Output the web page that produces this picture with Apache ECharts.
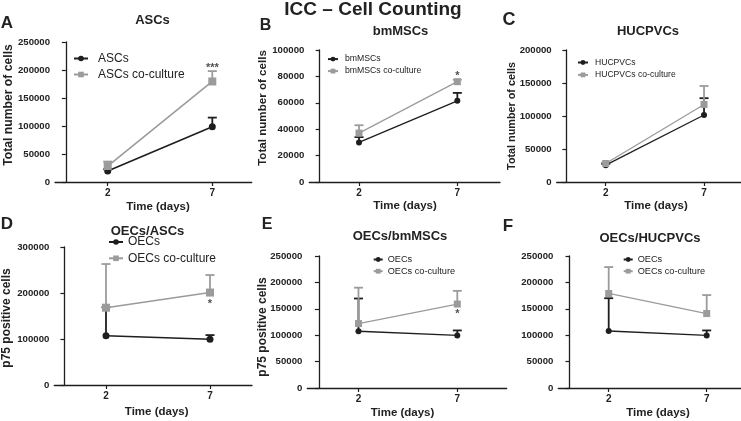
<!DOCTYPE html>
<html>
<head>
<meta charset="utf-8">
<title>ICC – Cell Counting</title>
<script src="https://cdn.jsdelivr.net/npm/echarts@6/dist/echarts.min.js"></script>
<style>
  html, body { margin: 0; padding: 0; background: #fff; }
  #chart { width: 741px; height: 421px; }
</style>
</head>
<body>
<div id="chart"></div>
<script>
// x values (days)
const days = [2, 7];

// A - ASCs
const ascsMean = [19700, 98500];
const ascsErr = [3000, 16500];
const ascsCoMean = [28500, 179500];
const ascsCoErr = [8000, 18500];

// B - bmMSCs
const bmMean = [30000, 61500];
const bmErr = [4000, 6000];
const bmCoMean = [37000, 76000];
const bmCoErr = [6000, 1500];

// C - HUCPVCs
const hucMean = [25500, 101500];
const hucErr = [2000, 25500];
const hucCoMean = [28000, 117500];
const hucCoErr = [1500, 28000];

// D - OECs/ASCs
const oecAMean = [107000, 99500];
const oecAErr = [62000, 9000];
const oecACoMean = [168000, 201000];
const oecACoErr = [95000, 38000];

// E - OECs/bmMSCs
const oecBMean = [107500, 99500];
const oecBErr = [62000, 9500];
const oecBCoMean = [122000, 159000];
const oecBCoErr = [68000, 25000];

// F - OECs/HUCPVCs
const oecHMean = [108000, 99500];
const oecHErr = [62000, 9500];
const oecHCoMean = [179000, 141000];
const oecHCoErr = [50000, 35000];

// significance marks at day 7
const sigText = ['***', '*', '', '*', '*', ''];
const sigValue = [203800, 80600, null, 176400, 140000, null];

const FONT = '"Liberation Sans", Arial, sans-serif';
const DARK = '#1e1e1e';
const GRAY = '#9b9b9b';
const TXT = '#222';

// layout for each panel (pixels)
const panels = [
  { names: ['ASCs', 'ASCs co-culture'], mean: [ascsMean, ascsCoMean], err: [ascsErr, ascsCoErr],
    left: 55, top: 42, width: 196.7, height: 140, xMin: -0.519, xMax: 8.883, yMax: 250000, yInt: 50000,
    lw: 1.6, sym: [7, 8], legend: { left: 73, top: 52.5, w: 14, h: 7, gap: 4, fs: 12, pad: 5 } },
  { names: ['bmMSCs', 'bmMSCs co-culture'], mean: [bmMean, bmCoMean], err: [bmErr, bmCoErr],
    left: 309.3, top: 50, width: 190.7, height: 132, xMin: -0.528, xMax: 9.17, yMax: 100000, yInt: 20000,
    lw: 1.3, sym: [6, 7], legend: { left: 327, top: 54.6, w: 10, h: 6, gap: 3, fs: 8.7, pad: 2 } },
  { names: ['HUCPVCs', 'HUCPVCs co-culture'], mean: [hucMean, hucCoMean], err: [hucErr, hucCoErr],
    left: 556.7, top: 50, width: 184.3, height: 132, xMin: -0.492, xMax: 8.88, yMax: 200000, yInt: 50000,
    lw: 1.3, sym: [6, 7], legend: { left: 577, top: 58, w: 10, h: 6, gap: 3.4, fs: 8.6, pad: 2 } },
  { names: ['OECs', 'OECs co-culture'], mean: [oecAMean, oecACoMean], err: [oecAErr, oecACoErr],
    left: 54.3, top: 247, width: 197.7, height: 138, xMin: -0.486, xMax: 9.02, yMax: 300000, yInt: 100000,
    lw: 1.6, sym: [7, 8], legend: { left: 108, top: 236, w: 14, h: 7, gap: 4.3, fs: 12, pad: 0 } },
  { names: ['OECs', 'OECs co-culture'], mean: [oecBMean, oecBCoMean], err: [oecBErr, oecBCoErr],
    left: 307.3, top: 256, width: 199.4, height: 132, xMin: -0.59, xMax: 9.5, yMax: 250000, yInt: 50000,
    lw: 1.3, sym: [6, 7], legend: { left: 372.7, top: 255, w: 9, h: 6, gap: 2.7, fs: 9.2, pad: 0 } },
  { names: ['OECs', 'OECs co-culture'], mean: [oecHMean, oecHCoMean], err: [oecHErr, oecHCoErr],
    left: 558.3, top: 256, width: 182.7, height: 132, xMin: -0.571, xMax: 8.75, yMax: 250000, yInt: 50000,
    lw: 1.3, sym: [6, 7], legend: { left: 622.7, top: 255, w: 9, h: 6, gap: 2.7, fs: 9.2, pad: 0 } }
];

// free text: [text, x, y, size, rotated]
const texts = [
  ['ICC – Cell Counting', 373, 10, 19, false],
  ['A', 7, 23.5, 17, false], ['B', 265.5, 25.5, 16, false], ['C', 509, 20, 18, false],
  ['D', 7, 224.5, 17, false], ['E', 267, 225, 16, false], ['F', 508, 226, 17, false],
  ['ASCs', 152.5, 20, 13, false], ['bmMSCs', 400.5, 31, 13, false], ['HUCPVCs', 648, 31.5, 13, false],
  ['OECs/ASCs', 147.5, 231.5, 13, false], ['OECs/bmMSCs', 400, 236.5, 13, false], ['OECs/HUCPVCs', 650, 238, 13, false],
  ['Time (days)', 158, 207, 11.5, false], ['Time (days)', 405, 206, 11.5, false], ['Time (days)', 656, 206, 11.5, false],
  ['Time (days)', 156.7, 412, 11.5, false], ['Time (days)', 402.5, 412.7, 11.5, false], ['Time (days)', 658, 412.7, 11.5, false],
  ['Total number of cells', 8.5, 105, 12.2, true], ['Total number of cells', 262.5, 108, 11.6, true],
  ['Total number of cells', 512.5, 116, 10.8, true],
  ['p75 positive cells', 6.7, 318, 12, true], ['p75 positive cells', 263, 327, 12, true]
];

const chart = echarts.init(document.getElementById('chart'), null, { renderer: 'canvas' });

const grid = [], xAxis = [], yAxis = [], legend = [], series = [];

const errorBar = (color, lw) => (params, api) => {
  const x = api.value(0);
  const m = api.value(1);
  const e = api.value(2);
  const p0 = api.coord([x, m]);
  const p1 = api.coord([x, m + e]);
  const style = { stroke: color, lineWidth: lw };
  return {
    type: 'group',
    children: [
      { type: 'line', shape: { x1: p0[0], y1: p0[1], x2: p1[0], y2: p1[1] }, style },
      { type: 'line', shape: { x1: p1[0] - 4.5, y1: p1[1], x2: p1[0] + 4.5, y2: p1[1] }, style }
    ]
  };
};

panels.forEach((p, i) => {
  grid.push({ left: p.left, top: p.top, width: p.width, height: p.height, outerBoundsMode: 'none', containLabel: false });
  xAxis.push({
    type: 'value', gridIndex: i, min: p.xMin, max: p.xMax,
    axisLine: { show: true, onZero: false, lineStyle: { color: DARK, width: 1.3 } },
    axisTick: { show: true, length: 4, lineStyle: { color: DARK, width: 1.2 }, customValues: days },
    axisLabel: { color: TXT, fontWeight: 'bold', fontSize: 10, fontFamily: FONT, margin: 6, customValues: days },
    splitLine: { show: false }
  });
  yAxis.push({
    type: 'value', gridIndex: i, min: 0, max: p.yMax, interval: p.yInt,
    axisLine: { show: true, lineStyle: { color: DARK, width: 1.3 } },
    axisTick: { show: true, length: 4, lineStyle: { color: DARK, width: 1.2 } },
    axisLabel: { color: TXT, fontWeight: 'bold', fontSize: 9.6, fontFamily: FONT, margin: 5,
      formatter: v => String(v) },
    splitLine: { show: false }
  });
  const L = p.legend;
  legend.push({
    data: p.names, orient: 'vertical', left: L.left, top: L.top, itemWidth: L.w, itemHeight: L.h, itemGap: L.gap,
    selectedMode: false, padding: 0,
    textStyle: { color: TXT, fontSize: L.fs, fontFamily: FONT, padding: [0, 0, 0, L.pad] }
  });
  const colors = [DARK, GRAY];
  const symbols = ['circle', 'rect'];
  [0, 1].forEach(k => {
    series.push({
      name: p.names[k] + ' SEM', type: 'custom', xAxisIndex: i, yAxisIndex: i,
      renderItem: errorBar(colors[k], 1.8), silent: true,
      data: days.map((d, j) => [d, p.mean[k][j], p.err[k][j]])
    });
    series.push({
      name: p.names[k], type: 'line', xAxisIndex: i, yAxisIndex: i,
      data: days.map((d, j) => [d, p.mean[k][j]]),
      symbol: symbols[k], symbolSize: p.sym[k], showSymbol: true,
      lineStyle: { color: colors[k], width: p.lw },
      itemStyle: { color: colors[k], borderWidth: 0 },
      animation: false, silent: true
    });
  });
  if (sigText[i]) {
    series.push({
      name: 'sig' + i, type: 'scatter', xAxisIndex: i, yAxisIndex: i, symbolSize: 0,
      data: [[days[1], sigValue[i]]], silent: true,
      label: { show: true, position: 'inside', formatter: sigText[i], color: TXT, fontWeight: 'bold', fontSize: 11, fontFamily: FONT }
    });
  }
});

const graphic = texts.map(t => ({
  type: 'text', x: t[1], y: t[2], rotation: t[4] ? Math.PI / 2 : 0,
  style: { text: t[0], fill: TXT, font: 'bold ' + t[3] + 'px ' + FONT, align: 'center', verticalAlign: 'middle' }
}));

chart.setOption({
  animation: false,
  backgroundColor: '#fff',
  grid, xAxis, yAxis, legend, series,
  graphic: { elements: graphic }
});
</script>
</body>
</html>
